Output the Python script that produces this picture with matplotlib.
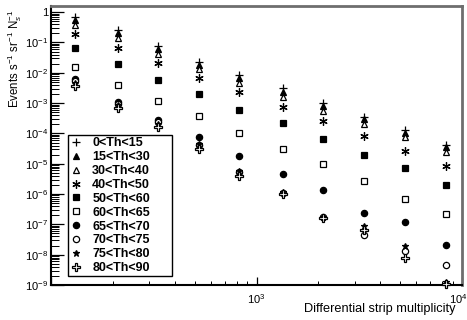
import numpy as np
import matplotlib
matplotlib.use("Agg")
import matplotlib.pyplot as plt
import matplotlib.transforms as mtransforms
from matplotlib.ticker import LogLocator, NullFormatter, FixedLocator, FixedFormatter

plt.rcParams["font.family"] = ["Liberation Sans", "DejaVu Sans"]
plt.rcParams["mathtext.fontset"] = "custom"
plt.rcParams["mathtext.rm"] = "Liberation Sans"
plt.rcParams["mathtext.it"] = "Liberation Sans:italic"

# differential strip multiplicity (bin centres)
mult = [131, 212, 333, 527, 826, 1340, 2100, 3325, 5270, 8360]

labels = ["0<Th<15", "15<Th<30", "30<Th<40", "40<Th<50", "50<Th<60",
          "60<Th<65", "65<Th<70", "70<Th<75", "75<Th<80", "80<Th<90"]

th_0_15 = [0.67, 0.26, 0.077, 0.0234, 0.0085, 0.0031, 0.0010, 3.6e-4, 1.3e-4, 4.2e-5]
th_15_30 = [0.56, 0.20, 0.062, 0.018, 0.0066, 0.0024, 8.1e-4, 2.95e-4, 1.07e-4, 3.5e-5]
th_30_40 = [0.37, 0.139, 0.042, 0.013, 0.0045, 0.0016, 5.3e-4, 2.0e-4, 7.5e-5, 2.4e-5]
th_40_50 = [0.19, 0.065, 0.0217, 0.0066, 0.0023, 7.6e-4, 2.6e-4, 8.3e-5, 2.6e-5, 8.7e-6]
th_50_60 = [0.064, 0.019, 0.0058, 0.00197, 6.0e-4, 2.2e-4, 6.5e-5, 1.95e-5, 7.1e-6, 2.0e-6]
th_60_65 = [0.015, 0.004, 0.00121, 3.9e-4, 1.0e-4, 3.1e-5, 1.0e-5, 2.7e-6, 6.9e-7, 2.15e-7]
th_65_70 = [0.0063, 0.0011, 2.8e-4, 7.7e-5, 1.8e-5, 4.6e-6, 1.4e-6, 2.4e-7, 1.2e-7, 2.1e-8]
th_70_75 = [0.0054, 9.4e-4, 2.3e-4, 4.2e-5, 5.4e-6, 1.1e-6, 1.7e-7, 4.5e-8, 1.35e-8, 4.6e-9]
th_75_80 = [0.0047, 8.5e-4, 2.0e-4, 4.5e-5, 5.9e-6, 1.2e-6, 1.8e-7, 8.9e-8, 1.9e-8, 1.26e-9]
th_80_90 = [0.0036, 6.8e-4, 1.6e-4, 3.1e-5, 4.0e-6, 1.0e-6, 1.6e-7, 6.6e-8, 7.6e-9, 1.07e-9]

series = [th_0_15, th_15_30, th_30_40, th_40_50, th_50_60,
          th_60_65, th_65_70, th_70_75, th_75_80, th_80_90]

# (marker, size, filled)
styles = [("+", 6, True), ("^", 5, True), ("^", 5, False), ((6, 2, 0), 6, True),
          ("s", 4.5, True), ("s", 4.5, False), ("o", 4.5, True), ("o", 4.5, False),
          ("*", 5, True), ("P", 5.5, False)]

fig = plt.figure(figsize=(4.67, 3.2), dpi=100)
ax = fig.add_axes([51 / 467, 1 - 285 / 320, 411 / 467, 279 / 320])

for vals, lab, (mk, ms, filled) in zip(series, labels, styles):
    ax.plot(mult, vals, linestyle="none", marker=mk, markersize=ms,
            markerfacecolor="black" if filled else "white",
            markeredgecolor="black", markeredgewidth=0.9, color="black",
            label=lab, clip_on=False, zorder=3)

ax.set_xscale("log")
ax.set_yscale("log")
ax.set_xlim(100, 10000)
ax.set_ylim(1e-9, 1.6)

# y ticks
ydec = list(range(-9, 1))
ax.yaxis.set_major_locator(FixedLocator([10.0 ** d for d in ydec]))
ax.yaxis.set_major_formatter(FixedFormatter(
    ["10$^{%d}$" % d if d != 0 else "1" for d in ydec]))
ax.yaxis.set_minor_locator(LogLocator(base=10, subs=np.arange(2, 10), numticks=20))
ax.yaxis.set_minor_formatter(NullFormatter())

# x ticks
ax.xaxis.set_major_locator(FixedLocator([100, 1000, 10000]))
ax.xaxis.set_major_formatter(FixedFormatter(["", "10$^{3}$", "10$^{4}$"]))
ax.xaxis.set_minor_locator(LogLocator(base=10, subs=np.arange(2, 10), numticks=20))
ax.xaxis.set_minor_formatter(NullFormatter())

ax.tick_params(axis="y", which="major", direction="in", length=9, width=0.9,
               labelsize=8, pad=2)
ax.tick_params(axis="y", which="minor", direction="in", length=6, width=0.7)
ax.tick_params(axis="x", which="major", direction="in", length=5.5, width=0.9,
               labelsize=8, pad=5)
ax.tick_params(axis="x", which="minor", direction="in", length=3, width=0.7)

# keep the 10^4 label inside the canvas
shift = mtransforms.ScaledTranslation(-4 / 100, 0, fig.dpi_scale_trans)
last = ax.xaxis.get_major_ticks()[-1].label1
last.set_transform(last.get_transform() + shift)

ax.spines["left"].set_linewidth(1.5)
ax.spines["bottom"].set_linewidth(1.5)
for s in ("top", "right"):
    ax.spines[s].set_color("#6e6e6e")
    ax.spines[s].set_linewidth(2)

fig.text(15 / 467, 1 - 9 / 320, "Events s$^{-1}$ sr$^{-1}$ N$_{s}^{-1}$",
         rotation=90, ha="center", va="top", fontsize=8.3)
fig.text(455 / 467, 1 - 309 / 320, "Differential strip multiplicity",
         ha="right", va="center", fontsize=9.2)

leg = ax.legend(loc="lower left", bbox_to_anchor=(0.041, 0.032, 0.253, 0.5),
                mode="expand", borderaxespad=0,
                frameon=True, fancybox=False, edgecolor="black", framealpha=1,
                prop={"weight": "bold", "size": 9}, handlelength=1.0,
                handletextpad=0.8, labelspacing=0.15, borderpad=0.15)
leg.get_frame().set_linewidth(1.0)

fig.savefig("out.png", dpi=100)
